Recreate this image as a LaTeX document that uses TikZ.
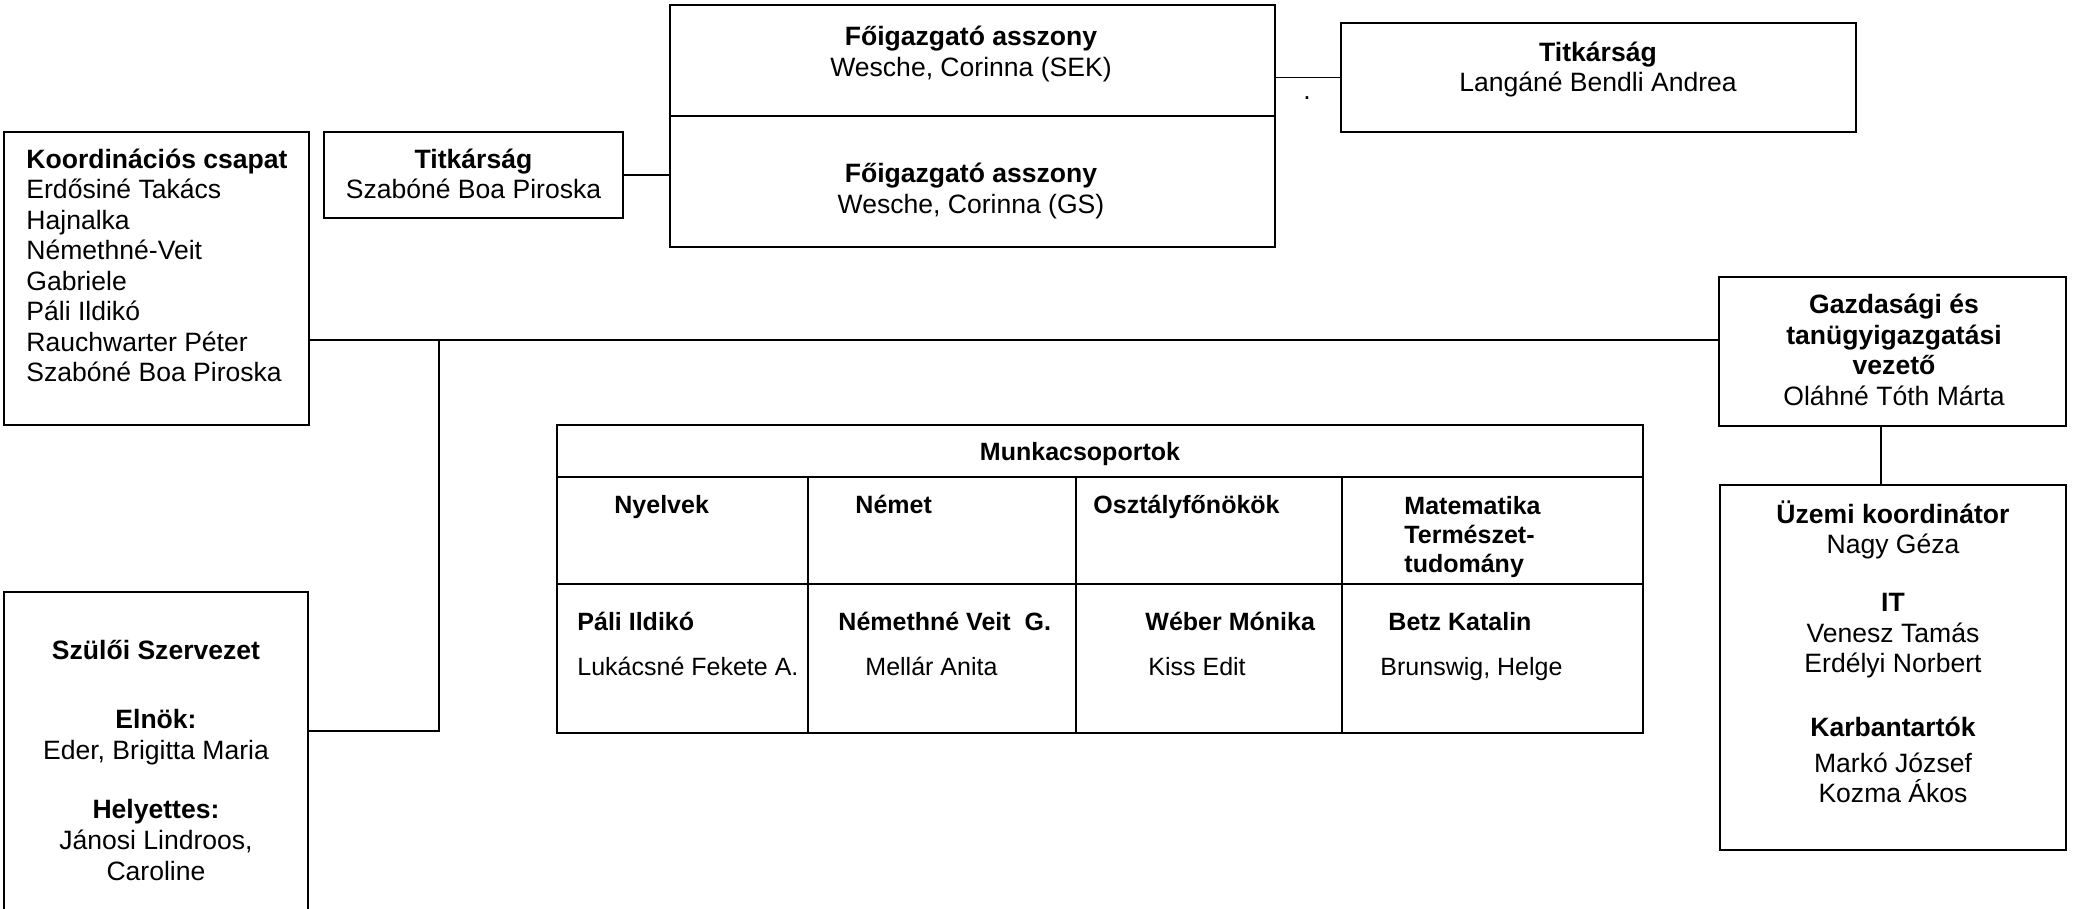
\documentclass[tikz,border=0pt]{standalone}
\usepackage{fontspec}
\setmainfont{Liberation Sans}
\usepackage{tikz}

\def\pxu{0.452pt}

\begin{document}
\begin{tikzpicture}[x=0.452pt, y=-0.452pt,
    box/.style 2 args={draw=black, line width=1pt, inner sep=0pt, minimum width=#1*\pxu, minimum height=#2*\pxu},
    txt/.style={inner sep=0pt, align=center, font=\fontsize{12}{13.8}\selectfont},
    cell/.style={inner sep=0pt, anchor=west, text height=8.1pt, text depth=0pt, font=\fontsize{11.3}{13.3}\selectfont},
    link/.style={line width=0.9pt}]
    \useasboundingbox (0,0) rectangle (2078,908);
    \clip (0,0) rectangle (2078,908);

    % boxes
    \node[box={305}{293}] (koord) at (156.5,278.5) {};
    \node[box={299}{86}] (titkL) at (473.5,175) {};
    \node[box={605}{111}] (foigSEK) at (972.5,60.5) {};
    \node[box={605}{131}] (foigGS) at (972.5,181.5) {};
    \node[box={515}{109}] (titkR) at (1598.5,77.5) {};
    \node[box={347}{149}] (gazd) at (1892.5,351.5) {};
    \node[box={346}{365}] (uzemi) at (1893,667.5) {};
    \node[box={304}{326}] (szuloi) at (156,755) {};
    \node[box={1086}{308}] (munka) at (1100,579) {};

    % texts
    \node[txt, anchor=west, align=left] (koordT) at (26,265.5) {\textbf{Koordinációs csapat}\\Erdősiné Takács\\Hajnalka\\Némethné-Veit\\Gabriele\\Páli Ildikó\\Rauchwarter Péter\\Szabóné Boa Piroska};
    \node[txt] (titkLT) at (473.5,174) {\textbf{Titkárság}\\Szabóné Boa Piroska};
    \node[txt] (foigSEKT) at (971,54) {\textbf{Főigazgató asszony}\\Wesche, Corinna (SEK)};
    \node[txt] (foigGST) at (971,191) {\textbf{Főigazgató asszony}\\Wesche, Corinna (GS)};
    \node[txt] (titkRT) at (1598,69.5) {\textbf{Titkárság}\\Langáné Bendli Andrea};
    \node[txt] (dot) at (1307,98) {.};
    \node[txt] (gazdT) at (1894,350) {\textbf{Gazdasági és}\\\textbf{tanügyigazgatási}\\\textbf{vezető}\\Oláhné Tóth Márta};
    \node[txt] (uzemiT) at (1893,530) {\textbf{Üzemi koordinátor}\\Nagy Géza};
    \node[txt] (itT) at (1893,636) {\textbf{IT}\\Venesz Tamás\\Erdélyi Norbert};
    \node[txt] (karbT) at (1893,760) {\textbf{Karbantartók}\\[2.4pt]Markó József\\Kozma Ákos};
    \node[txt] (szuloiT) at (156,650) {\textbf{Szülői Szervezet}};
    \node[txt] (elnokT) at (156,737) {\textbf{Elnök:}\\Eder, Brigitta Maria};
    \node[txt] (helyT) at (156,840) {\textbf{Helyettes:}\\Jánosi Lindroos,\\Caroline};

    % table
    \draw[link] (munka.west |- 0,477) -- (munka.east |- 0,477);
    \draw[link] (munka.west |- 0,584) -- (munka.east |- 0,584);
    \foreach \cx in {808,1076,1342}
      \draw[link] (\cx,477) -- (munka.south -| \cx,0);
    \node[cell, anchor=center] (munkaT) at (1080,452) {\textbf{Munkacsoportok}};
    \node[cell] (nyelvT) at (614,505) {\textbf{Nyelvek}};
    \node[cell] (nemetT) at (855,505) {\textbf{Német}};
    \node[cell] (osztT) at (1093,505) {\textbf{Osztályfőnökök}};
    \node[inner sep=0pt, anchor=west, align=left, font=\fontsize{11.3}{13.3}\selectfont] (matT) at (1404,537) {\textbf{Matematika}\\\textbf{Természet-}\\\textbf{tudomány}};
    \node[cell] (pali) at (577,622) {\textbf{Páli Ildikó}};
    \node[cell] (nemethne) at (838,622) {\textbf{Némethné Veit\ \ G.}};
    \node[cell] (weber) at (1145,622) {\textbf{Wéber Mónika}};
    \node[cell] (betz) at (1388,622) {\textbf{Betz Katalin}};
    \node[cell] (lukacsne) at (577,667) {Lukácsné Fekete A.};
    \node[cell] (mellar) at (865,667) {Mellár Anita};
    \node[cell] (kiss) at (1148,667) {Kiss Edit};
    \node[cell] (brunswig) at (1380,667) {Brunswig, Helge};

    % connectors
    \coordinate (hub) at (439,340);
    \coordinate (hubS) at (439,731);
    \coordinate (gu) at (1881,0);
    \draw[link] (titkL.east) -- (titkL.east -| foigGS.west);
    \draw[link] (titkR.west -| foigSEK.east) -- (titkR.west);
    \draw[link] (hub -| koord.east) -- (hub -| gazd.west);
    \draw[link] (hub) -- (hubS) -- (hubS -| szuloi.east);
    \draw[link] (gazd.south -| gu) -- (uzemi.north -| gu);
  \end{tikzpicture}
\end{document}
